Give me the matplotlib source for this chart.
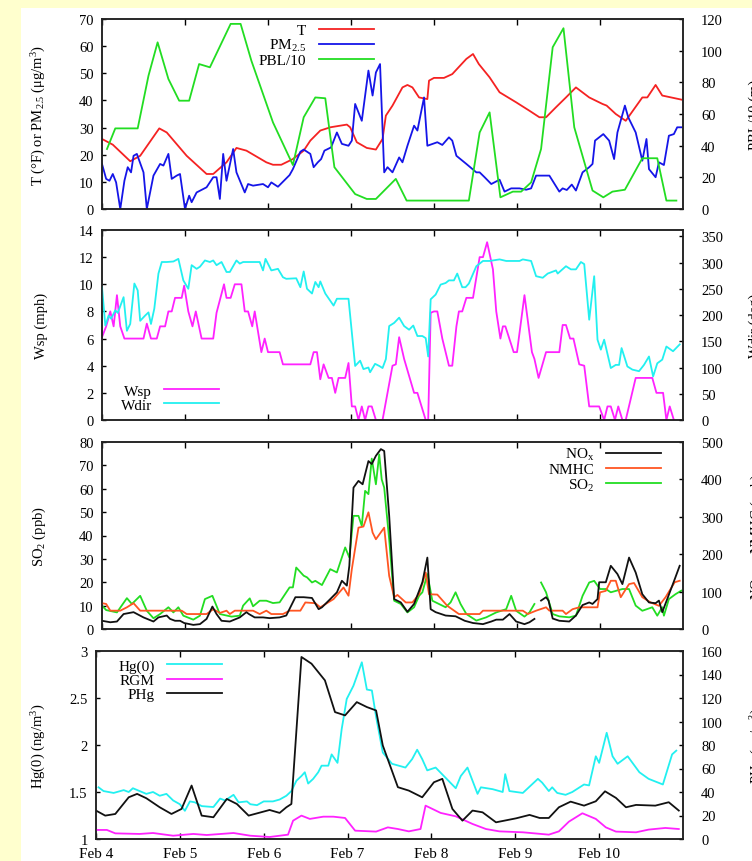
import numpy as np
import matplotlib
matplotlib.use('Agg')
import matplotlib.pyplot as plt
from matplotlib.patches import Rectangle

plt.rcParams['font.family'] = ['Liberation Serif', 'DejaVu Serif']
plt.rcParams['mathtext.fontset'] = 'custom'
plt.rcParams['mathtext.rm'] = 'Liberation Serif'
plt.rcParams['mathtext.it'] = 'Liberation Serif:italic'
plt.rcParams['font.size'] = 10.5

# x axis: days after Feb 4 00:00
day_ticks = [0, 1, 2, 3, 4, 5, 6]
day_labels = ['Feb 4', 'Feb 5', 'Feb 6', 'Feb 7', 'Feb 8', 'Feb 9', 'Feb 10']

# ---- panel 1 : T (F), PM2.5 (ug/m3), PBL/10 -- all on left axis
T_pts = [(0, 25.8), (0.13, 23.7), (0.34, 17.6), (0.46, 19.6), (0.69, 29.7), (0.78, 28.2),
         (1.02, 19.6), (1.26, 12.9), (1.34, 12.9), (1.50, 17.2), (1.62, 22.5), (1.74, 21.5),
         (1.98, 17.2), (2.06, 16.3), (2.16, 16.3), (2.30, 18.4), (2.43, 21.5), (2.51, 25.2),
         (2.63, 28.9), (2.75, 30.1), (2.95, 31.1), (2.99, 30.1), (3.07, 24.6), (3.19, 22.5),
         (3.30, 21.9), (3.38, 25.8), (3.42, 34.4), (3.50, 38.1), (3.62, 44.8), (3.68, 45.7),
         (3.74, 44.8), (3.82, 41.1), (3.92, 40.5), (3.94, 47.3), (4.00, 48.3), (4.12, 48.3),
         (4.22, 49.7), (4.39, 55.3), (4.47, 57.1), (4.54, 53.4), (4.67, 48.5), (4.79, 43.0),
         (4.99, 39.3), (5.15, 36.2), (5.27, 33.8), (5.35, 33.8), (5.47, 37.5), (5.59, 41.1),
         (5.71, 44.8), (5.87, 41.1), (6.03, 38.7), (6.08, 38.1), (6.19, 35.0), (6.31, 32.5),
         (6.41, 36.8), (6.51, 41.1), (6.57, 41.1), (6.67, 45.7), (6.75, 41.8), (6.98, 40.3)]
PM_pts = [(0, 16.6), (0.05, 11.1), (0.09, 10.4), (0.13, 12.9), (0.17, 9.8), (0.22, 0),
          (0.27, 10.4), (0.31, 15.4), (0.35, 13.5), (0.38, 19.6), (0.42, 20.3), (0.50, 13.5),
          (0.54, 0), (0.62, 12.3), (0.70, 16.6), (0.74, 16.0), (0.80, 20.3), (0.84, 11.1),
          (0.90, 12.3), (0.94, 12.9), (1.00, 0), (1.05, 4.9), (1.08, 2.5), (1.14, 6.1),
          (1.26, 8.0), (1.34, 11.7), (1.38, 11.7), (1.42, 3.7), (1.46, 20.3), (1.50, 10.4),
          (1.58, 22.1), (1.62, 13.5), (1.72, 6.1), (1.76, 9.2), (1.82, 8.6), (1.94, 9.2),
          (2.00, 8.0), (2.04, 9.8), (2.12, 8.2), (2.26, 12.5), (2.30, 14.7), (2.39, 21.1),
          (2.43, 21.9), (2.51, 20.3), (2.55, 15.4), (2.60, 17.2), (2.64, 18.4), (2.68, 21.5),
          (2.76, 22.7), (2.83, 28.2), (2.89, 24.0), (2.97, 23.3), (3.01, 25.2), (3.05, 38.7),
          (3.13, 32.5), (3.21, 51.0), (3.26, 41.8), (3.30, 50.3), (3.35, 53.4), (3.40, 13.5),
          (3.44, 15.4), (3.50, 13.5), (3.58, 19.0), (3.62, 17.2), (3.68, 23.3), (3.76, 30.7),
          (3.80, 28.9), (3.88, 41.1), (3.92, 23.3), (4.04, 24.6), (4.10, 23.6), (4.18, 26.4),
          (4.22, 25.2), (4.27, 19.6), (4.39, 16.6), (4.51, 13.5), (4.55, 13.5), (4.61, 11.7),
          (4.69, 9.2), (4.79, 10.8), (4.85, 6.4), (4.93, 7.6), (5.03, 7.6), (5.11, 7.1),
          (5.17, 7.6), (5.23, 12.3), (5.39, 12.3), (5.51, 6.4), (5.55, 7.6), (5.60, 7.0),
          (5.66, 9.0), (5.71, 6.8), (5.79, 13.5), (5.87, 15.4), (5.91, 16.6), (5.94, 25.2),
          (6.04, 27.6), (6.11, 25.2), (6.17, 18.4), (6.21, 28.2), (6.30, 38.1), (6.34, 33.8),
          (6.43, 28.2), (6.51, 17.8), (6.56, 25.8), (6.59, 14.7), (6.67, 11.7), (6.71, 17.2),
          (6.77, 16.2), (6.83, 27.0), (6.89, 27.6), (6.93, 30.1), (6.98, 30.1)]
PBL_pts = [(0.06, 22.1), (0.16, 29.7), (0.43, 29.7), (0.56, 49.1), (0.67, 61.4), (0.80, 47.9),
           (0.93, 39.9), (1.05, 39.9), (1.17, 53.4), (1.30, 52.2), (1.55, 68.2), (1.67, 68.2),
           (1.80, 54.6), (2.06, 31.9), (2.30, 16.2), (2.43, 33.8), (2.57, 41.1), (2.69, 40.8),
           (2.80, 15.4), (3.05, 5.5), (3.19, 3.7), (3.30, 3.7), (3.54, 11.1), (3.67, 3.1),
           (4.42, 3.1), (4.55, 28.2), (4.67, 35.6), (4.80, 4.3), (4.95, 6.4), (5.05, 6.4),
           (5.17, 9.8), (5.29, 22.1), (5.43, 59.6), (5.56, 66.6), (5.69, 30.1), (5.91, 6.8),
           (6.04, 4.3), (6.15, 6.4), (6.30, 7.1), (6.51, 18.7), (6.69, 18.7), (6.80, 3.1),
           (6.92, 3.1)]

# ---- panel 2 : wind speed (mph, left) and direction (deg, right)
Wsp_pts = [(0, 6.1), (0.05, 6.9), (0.10, 8.0), (0.14, 6.9), (0.18, 9.2), (0.22, 6.9),
           (0.27, 6.0), (0.50, 6.0), (0.54, 7.1), (0.59, 6.0), (0.66, 6.0), (0.70, 6.9),
           (0.76, 6.9), (0.80, 8.0), (0.84, 8.0), (0.88, 9.0), (0.96, 9.0), (0.99, 9.9),
           (1.04, 8.0), (1.09, 6.9), (1.13, 8.0), (1.20, 6.0), (1.34, 6.0), (1.38, 7.9),
           (1.47, 10.0), (1.50, 9.0), (1.55, 9.0), (1.60, 10.0), (1.68, 10.0), (1.72, 8.0),
           (1.76, 8.0), (1.81, 6.9), (1.84, 8.0), (1.92, 5.0), (1.96, 6.0), (2.00, 5.0),
           (2.14, 5.0), (2.18, 4.1), (2.51, 4.1), (2.55, 5.0), (2.59, 5.0), (2.63, 3.0),
           (2.67, 4.1), (2.73, 3.1), (2.77, 3.1), (2.81, 2.0), (2.85, 3.1), (2.93, 3.1),
           (2.97, 4.2), (3.01, 1.0), (3.05, 1.0), (3.09, 0), (3.13, 1.0), (3.17, 0),
           (3.21, 1.0), (3.25, 1.0), (3.30, 0), (3.38, 0), (3.44, 2.0), (3.50, 4.0),
           (3.54, 4.1), (3.58, 6.1), (3.64, 4.5), (3.76, 2.0), (3.80, 2.0), (3.90, 0),
           (3.93, 0), (3.96, 7.9), (4.00, 8.0), (4.04, 8.0), (4.10, 6.0), (4.18, 4.0),
           (4.22, 4.0), (4.27, 6.9), (4.30, 8.0), (4.34, 8.0), (4.39, 9.0), (4.47, 9.0),
           (4.55, 12.0), (4.59, 12.0), (4.64, 13.1), (4.71, 11.1), (4.75, 8.0), (4.80, 6.0),
           (4.83, 6.9), (4.86, 6.9), (4.96, 5.0), (5.00, 5.0), (5.09, 9.2), (5.18, 5.0),
           (5.21, 4.5), (5.26, 3.1), (5.35, 5.0), (5.51, 5.0), (5.55, 7.0), (5.59, 7.0),
           (5.64, 6.0), (5.68, 6.0), (5.75, 4.1), (5.81, 4.0), (5.87, 1.0), (5.99, 1.0),
           (6.05, 0), (6.09, 1.0), (6.13, 1.0), (6.18, 0), (6.22, 1.0), (6.27, 0),
           (6.31, 0), (6.43, 3.1), (6.63, 3.1), (6.68, 2.0), (6.76, 2.0), (6.80, 0),
           (6.84, 1.0), (6.89, 0)]
Wdir_pts = [(0, 253), (0.04, 180), (0.08, 199), (0.11, 193), (0.16, 209), (0.19, 204),
            (0.26, 234), (0.30, 170), (0.34, 183), (0.39, 260), (0.43, 247), (0.46, 189),
            (0.52, 199), (0.56, 205), (0.59, 183), (0.63, 212), (0.68, 279), (0.72, 301),
            (0.78, 301), (0.86, 302), (0.92, 307), (0.98, 266), (1.04, 250), (1.08, 295),
            (1.14, 288), (1.18, 292), (1.24, 304), (1.30, 301), (1.34, 304), (1.38, 295),
            (1.44, 301), (1.50, 282), (1.54, 282), (1.62, 304), (1.66, 298), (1.70, 301),
            (1.90, 301), (1.94, 285), (1.97, 307), (2.04, 285), (2.12, 288), (2.18, 272),
            (2.22, 269), (2.34, 270), (2.39, 253), (2.43, 283), (2.47, 250), (2.53, 241),
            (2.57, 263), (2.61, 253), (2.63, 264), (2.69, 241), (2.79, 218), (2.83, 231),
            (2.97, 231), (3.05, 103), (3.11, 113), (3.15, 97), (3.21, 100), (3.23, 91),
            (3.29, 107), (3.34, 103), (3.38, 99), (3.42, 116), (3.46, 179), (3.52, 185),
            (3.58, 195), (3.64, 179), (3.70, 172), (3.75, 180), (3.80, 160), (3.86, 160),
            (3.90, 156), (3.93, 121), (3.96, 230), (4.02, 239), (4.08, 258), (4.14, 261),
            (4.18, 266), (4.24, 266), (4.28, 279), (4.34, 253), (4.38, 253), (4.42, 260),
            (4.51, 293), (4.59, 303), (4.67, 303), (4.79, 306), (4.87, 303), (5.03, 303),
            (5.07, 306), (5.17, 303), (5.23, 274), (5.31, 271), (5.37, 279), (5.47, 285),
            (5.49, 279), (5.59, 293), (5.65, 287), (5.71, 287), (5.77, 301), (5.81, 297),
            (5.87, 191), (5.93, 274), (5.97, 153), (6.01, 134), (6.05, 153), (6.13, 99),
            (6.19, 105), (6.23, 105), (6.26, 137), (6.33, 102), (6.39, 96), (6.47, 93),
            (6.53, 105), (6.59, 121), (6.64, 83), (6.69, 108), (6.75, 115), (6.80, 140),
            (6.88, 131), (6.96, 144)]

# ---- panel 3 : SO2 (ppb, left), NOx and NMHC (right)
NOx_pts = [(0, 22), (0.10, 18), (0.18, 20), (0.26, 40), (0.38, 45), (0.50, 31), (0.62, 20),
           (0.68, 31), (0.78, 36), (0.82, 27), (0.88, 22), (0.94, 22), (0.99, 16), (1.10, 11),
           (1.18, 13), (1.26, 27), (1.33, 60), (1.38, 40), (1.44, 22), (1.54, 20), (1.66, 31),
           (1.74, 45), (1.77, 40), (1.84, 31), (1.94, 31), (2.02, 29), (2.14, 31), (2.22, 36),
           (2.33, 85), (2.43, 85), (2.53, 83), (2.61, 53), (2.65, 58), (2.75, 80), (2.83, 98),
           (2.89, 129), (2.95, 116), (2.98, 169), (3.03, 378), (3.09, 396), (3.14, 387),
           (3.21, 449), (3.25, 441), (3.30, 463), (3.36, 481), (3.40, 476), (3.46, 303),
           (3.52, 80), (3.60, 71), (3.68, 46), (3.76, 67), (3.86, 125), (3.92, 191), (3.96, 53),
           (4.02, 45), (4.14, 36), (4.26, 34), (4.37, 22), (4.47, 16), (4.59, 13), (4.69, 20),
           (4.75, 25), (4.83, 25), (4.91, 40), (4.99, 20), (5.09, 13), (5.15, 18), (5.21, 27),
           (5.25, np.nan), (5.29, 76), (5.35, 85), (5.38, 76), (5.43, 28), (5.51, 22),
           (5.63, 20), (5.71, 36), (5.79, 64), (5.87, 71), (5.91, 67), (5.97, 80), (5.99, 125),
           (6.07, 125), (6.13, 169), (6.21, 147), (6.27, 120), (6.35, 191), (6.43, 151),
           (6.51, 93), (6.59, 71), (6.67, 69), (6.71, 76), (6.75, 45), (6.81, 80), (6.90, 133),
           (6.96, 169)]
NMHC_pts = [(0, 69), (0.05, 67), (0.10, 49), (0.22, 49), (0.30, 58), (0.38, 69), (0.46, 49),
            (0.96, 49), (1.02, 40), (1.26, 40), (1.34, 53), (1.42, 43), (1.50, 49), (1.54, 40),
            (1.60, 49), (1.82, 49), (1.90, 40), (1.98, 49), (2.04, 40), (2.18, 40), (2.26, 49),
            (2.39, 49), (2.45, 71), (2.57, 69), (2.63, 58), (2.79, 80), (2.91, 111), (2.97, 89),
            (3.01, 160), (3.09, 271), (3.15, 274), (3.21, 312), (3.26, 258), (3.30, 240),
            (3.40, 271), (3.46, 142), (3.52, 85), (3.56, 91), (3.66, 71), (3.74, 71), (3.82, 93),
            (3.90, 151), (3.94, 93), (4.04, 92), (4.16, 62), (4.30, 40), (4.55, 40), (4.59, 49),
            (5.07, 49), (5.13, 40), (5.23, 49), (5.35, 58), (5.39, 49), (5.55, 49), (5.59, 40),
            (5.67, 53), (5.75, 58), (5.97, 58), (6.00, 98), (6.07, 102), (6.13, 129),
            (6.19, 129), (6.25, 85), (6.35, 120), (6.41, 123), (6.51, 85), (6.61, 71),
            (6.71, 62), (6.79, 85), (6.90, 125), (6.96, 129)]
SO2_pts = [(0, 10.0), (0.05, 8.1), (0.18, 7.1), (0.30, 13.2), (0.36, 10.7), (0.46, 14.2),
           (0.54, 7.8), (0.62, 4.6), (0.70, 6.4), (0.80, 9.3), (0.86, 7.1), (0.92, 9.3),
           (0.98, 5.7), (1.10, 4.0), (1.18, 5.7), (1.24, 12.8), (1.33, 14.2), (1.42, 6.4),
           (1.56, 5.3), (1.66, 5.7), (1.70, 10.0), (1.78, 13.1), (1.82, 9.7), (1.90, 12.1),
           (1.98, 12.1), (2.06, 11.1), (2.14, 11.4), (2.26, 17.8), (2.30, 17.8), (2.34, 26.3),
           (2.43, 22.8), (2.47, 22.1), (2.53, 19.9), (2.57, 20.6), (2.65, 18.8), (2.75, 25.6),
           (2.83, 24.2), (2.93, 34.9), (2.98, 30.6), (3.03, 48.4), (3.09, 48.4), (3.13, 44.1),
           (3.17, 59.1), (3.21, 57.7), (3.25, 72.9), (3.30, 61.9), (3.34, 74.7), (3.37, 64.0),
           (3.40, 60.5), (3.46, 38.4), (3.52, 12.1), (3.60, 10.7), (3.68, 7.1), (3.76, 9.3),
           (3.82, 14.2), (3.86, 15.7), (3.92, 23.5), (3.98, 12.1), (4.06, 10.7), (4.14, 9.3),
           (4.20, 11.4), (4.26, 15.7), (4.32, 10.7), (4.39, 6.4), (4.51, 3.6), (4.63, 5.0),
           (4.75, 7.1), (4.87, 8.5), (4.93, 14.2), (4.99, 7.8), (5.09, 5.3), (5.15, 7.1),
           (5.21, 10.7), (5.25, np.nan), (5.29, 19.9), (5.35, 15.7), (5.43, 6.4), (5.51, 5.4),
           (5.63, 5.0), (5.71, 5.7), (5.79, 14.2), (5.87, 19.9), (5.93, 20.6), (6.00, 17.1),
           (6.07, 17.1), (6.13, 15.7), (6.27, 17.1), (6.35, 17.1), (6.43, 10.0), (6.51, 7.8),
           (6.63, 9.3), (6.69, 5.7), (6.75, 9.3), (6.77, 5.7), (6.83, 12.8), (6.91, 14.9),
           (6.98, 16.4)]

# ---- panel 4 : Hg(0) (ng/m3, left), RGM and PHg (right)
Hg_pts = [(0.03, 1.55), (0.09, 1.51), (0.21, 1.49), (0.33, 1.52), (0.39, 1.50), (0.44, 1.54),
          (0.52, 1.51), (0.60, 1.48), (0.68, 1.50), (0.76, 1.46), (0.84, 1.48), (0.92, 1.41),
          (1.00, 1.37), (1.06, 1.30), (1.12, 1.40), (1.18, 1.39), (1.26, 1.35), (1.40, 1.34),
          (1.48, 1.43), (1.54, 1.41), (1.64, 1.47), (1.70, 1.39), (1.80, 1.40), (1.84, 1.37),
          (1.92, 1.36), (2.00, 1.40), (2.11, 1.40), (2.19, 1.42), (2.27, 1.46), (2.33, 1.51),
          (2.39, 1.62), (2.45, 1.67), (2.49, 1.71), (2.53, 1.59), (2.59, 1.64), (2.65, 1.71),
          (2.69, 1.78), (2.77, 1.78), (2.81, 1.90), (2.88, 1.81), (2.93, 2.17), (2.99, 2.49),
          (3.07, 2.63), (3.17, 2.88), (3.23, 2.59), (3.29, 2.58), (3.34, 2.30), (3.42, 1.92),
          (3.53, 1.80), (3.69, 1.76), (3.77, 1.85), (3.83, 1.95), (3.89, 1.85), (3.95, 1.73),
          (4.05, 1.76), (4.17, 1.65), (4.29, 1.54), (4.35, 1.67), (4.43, 1.76), (4.55, 1.48),
          (4.59, 1.55), (4.73, 1.53), (4.85, 1.50), (4.88, 1.69), (4.93, 1.51), (5.09, 1.49),
          (5.27, 1.64), (5.32, 1.60), (5.40, 1.51), (5.44, 1.55), (5.50, 1.49), (5.60, 1.47),
          (5.68, 1.50), (5.82, 1.58), (5.88, 1.57), (5.96, 1.88), (6.00, 1.81), (6.09, 2.13),
          (6.16, 1.88), (6.22, 1.80), (6.34, 1.88), (6.48, 1.71), (6.59, 1.64), (6.76, 1.58),
          (6.87, 1.90), (6.92, 1.94)]
RGM_pts = [(0, 7.7), (0.13, 7.7), (0.23, 4.8), (0.52, 4.3), (0.68, 5.1), (0.92, 2.8),
           (1.16, 4.3), (1.32, 3.4), (1.64, 5.1), (1.84, 2.8), (2.07, 1.7), (2.29, 3.7),
           (2.35, 15.6), (2.45, 19.9), (2.55, 17.1), (2.71, 19.0), (2.83, 19.0), (2.97, 17.9),
           (3.09, 7.1), (3.34, 6.3), (3.48, 9.9), (3.60, 8.5), (3.73, 6.5), (3.87, 8.5),
           (3.93, 28.4), (4.11, 22.2), (4.29, 19.3), (4.49, 12.8), (4.65, 8.5), (4.81, 6.5),
           (5.09, 5.7), (5.40, 3.7), (5.52, 6.5), (5.64, 14.8), (5.80, 21.9), (5.96, 17.1),
           (6.08, 9.9), (6.20, 6.3), (6.44, 5.7), (6.59, 8.0), (6.79, 9.4), (6.95, 8.5)]
PHg_pts = [(0, 24.2), (0.11, 19.9), (0.23, 21.3), (0.39, 35.5), (0.49, 38.4), (0.60, 34.7),
           (0.76, 27.0), (0.90, 21.3), (1.02, 25.6), (1.14, 45.5), (1.26, 19.9), (1.40, 18.5),
           (1.56, 34.1), (1.68, 29.8), (1.82, 19.9), (1.94, 22.2), (2.07, 24.7), (2.19, 22.2),
           (2.27, 27.0), (2.33, 29.8), (2.45, 154.9), (2.57, 149.2), (2.73, 135.0),
           (2.85, 108.0), (2.97, 105.2), (3.11, 116.5), (3.23, 112.3), (3.34, 109.4),
           (3.42, 79.6), (3.60, 44.1), (3.73, 41.2), (3.89, 35.5), (4.03, 48.3), (4.13, 51.2),
           (4.25, 25.6), (4.37, 15.6), (4.49, 24.2), (4.61, 22.7), (4.77, 14.2), (5.01, 17.6),
           (5.17, 20.5), (5.29, 17.9), (5.40, 17.9), (5.52, 27.0), (5.66, 31.8), (5.82, 28.4),
           (5.96, 32.1), (6.07, 40.6), (6.20, 35.0), (6.32, 27.0), (6.44, 29.0), (6.67, 28.4),
           (6.83, 31.3), (6.95, 24.2)]


def xy(pts):
    d, v = zip(*pts)
    return np.array(d, dtype=float), np.array(v, dtype=float)


def style(ax, ax2, ylim, ylim2, yticks, yticks2, last=False):
    ax.set_xlim(0, 7)
    ax.set_ylim(*ylim)
    ax2.set_ylim(*ylim2)
    ax.set_yticks(yticks)
    ax2.set_yticks(yticks2)
    ax.set_xticks(day_ticks)
    if last:
        ax.set_xticklabels(day_labels)
    else:
        ax.set_xticklabels([])
    ax.tick_params(axis='x', direction='in', top=True, length=4, width=1, pad=6,
                   labelsize=11)
    ax.tick_params(axis='y', direction='in', length=3, width=1, pad=6)
    ax2.tick_params(axis='y', direction='in', length=3, width=1, pad=13)
    for a in (ax, ax2):
        for s in a.spines.values():
            s.set_linewidth(1.1)
            s.set_color('#222222')


fig = plt.figure(figsize=(7.52, 8.62), dpi=100, facecolor='#FFFFCE')
fig.add_artist(Rectangle((21 / 752, 0), 1, 1 - 9 / 862, transform=fig.transFigure,
                         facecolor='white', edgecolor='none', zorder=0))

lw = 1.3
leg_kw = dict(frameon=False, markerfirst=False, handlelength=3.6, handletextpad=0.8,
              labelspacing=0.02, borderpad=0.1, borderaxespad=0, fontsize=11)
right_x = 1.113  # right-hand axis titles sit mostly beyond the picture edge

# panel 1
ax1 = fig.add_axes([102 / 752, 1 - 210 / 862, 581 / 752, 190 / 862])
ax1b = ax1.twinx()
d, v = xy(T_pts)
l1, = ax1.plot(d, v, color='#F52222', lw=lw, label='T')
d, v = xy(PM_pts)
l2, = ax1.plot(d, v, color='#1515E8', lw=lw, label='PM$_{2.5}$')
d, v = xy(PBL_pts)
l3, = ax1.plot(d, v, color='#22DD22', lw=lw, label='PBL/10')
style(ax1, ax1b, (0, 70), (0, 120), range(0, 71, 10), range(0, 121, 20))
ax1b.legend(handles=[l1, l2, l3], loc='upper right', bbox_to_anchor=(0.47, 0.985), **leg_kw)
ax1.set_ylabel('T (\u00b0F) or PM$_{2.5}$ (\u03bcg/m$^3$)')
ax1.yaxis.set_label_coords(-0.093, 0.5)
ax1b.set_ylabel('PBL/10 (m)')
ax1b.yaxis.set_label_coords(right_x, 0.5)

# panel 2
ax2 = fig.add_axes([102 / 752, 1 - 421 / 862, 581 / 752, 190 / 862])
ax2b = ax2.twinx()
d, v = xy(Wsp_pts)
l1, = ax2.plot(d, v, color='#FF22FF', lw=lw, label='Wsp')
d, v = xy(Wdir_pts)
l2, = ax2b.plot(d, v, color='#22F0F0', lw=lw, label='Wdir')
style(ax2, ax2b, (0, 14), (0, 362), range(0, 15, 2), range(0, 351, 50))
ax2b.legend(handles=[l1, l2], loc='lower left', bbox_to_anchor=(0.03, 0.035), **leg_kw)
ax2.set_ylabel('Wsp (mph)')
ax2.yaxis.set_label_coords(-0.093, 0.5)
ax2b.set_ylabel('Wdir (deg)')
ax2b.yaxis.set_label_coords(right_x, 0.5)

# panel 3
ax3 = fig.add_axes([102 / 752, 1 - 630 / 862, 581 / 752, 187 / 862])
ax3b = ax3.twinx()
d, v = xy(SO2_pts)
l3, = ax3.plot(d, v, color='#22DD22', lw=lw, label='SO$_2$')
d, v = xy(NMHC_pts)
l2, = ax3b.plot(d, v, color='#FF5522', lw=lw, label='NMHC')
d, v = xy(NOx_pts)
l1, = ax3b.plot(d, v, color='#111111', lw=lw, label='NO$_\\mathrm{x}$')
style(ax3, ax3b, (0, 80), (0, 500), range(0, 81, 10), range(0, 501, 100))
ax3b.legend(handles=[l1, l2, l3], loc='upper right', bbox_to_anchor=(0.965, 0.985), **leg_kw)
ax3.set_ylabel('SO$_2$ (ppb)')
ax3.yaxis.set_label_coords(-0.093, 0.5)
ax3b.set_ylabel('NO$_\\mathrm{x}$ or NMHC (ppb)')
ax3b.yaxis.set_label_coords(right_x, 0.5)

# panel 4
ax4 = fig.add_axes([96 / 752, 1 - 840 / 862, 587 / 752, 188 / 862])
ax4b = ax4.twinx()
d, v = xy(Hg_pts)
l1, = ax4.plot(d, v, color='#22F0F0', lw=lw, label='Hg(0)')
d, v = xy(RGM_pts)
l2, = ax4b.plot(d, v, color='#FF22FF', lw=lw, label='RGM')
d, v = xy(PHg_pts)
l3, = ax4b.plot(d, v, color='#111111', lw=lw, label='PHg')
style(ax4, ax4b, (1, 3), (0, 160), [1, 1.5, 2, 2.5, 3], range(0, 161, 20), last=True)
ax4.set_yticklabels(['1', '1.5', '2', '2.5', '3'])
ax4b.legend(handles=[l1, l2, l3], loc='upper left', bbox_to_anchor=(0.035, 0.965), **leg_kw)
ax4.set_ylabel('Hg(0) (ng/m$^3$)')
ax4.yaxis.set_label_coords(-0.082, 0.5)
ax4b.set_ylabel('PHg (pg/m$^3$)')
ax4b.yaxis.set_label_coords(right_x - 0.001, 0.5)

fig.savefig('out.png', dpi=100, facecolor=fig.get_facecolor())
